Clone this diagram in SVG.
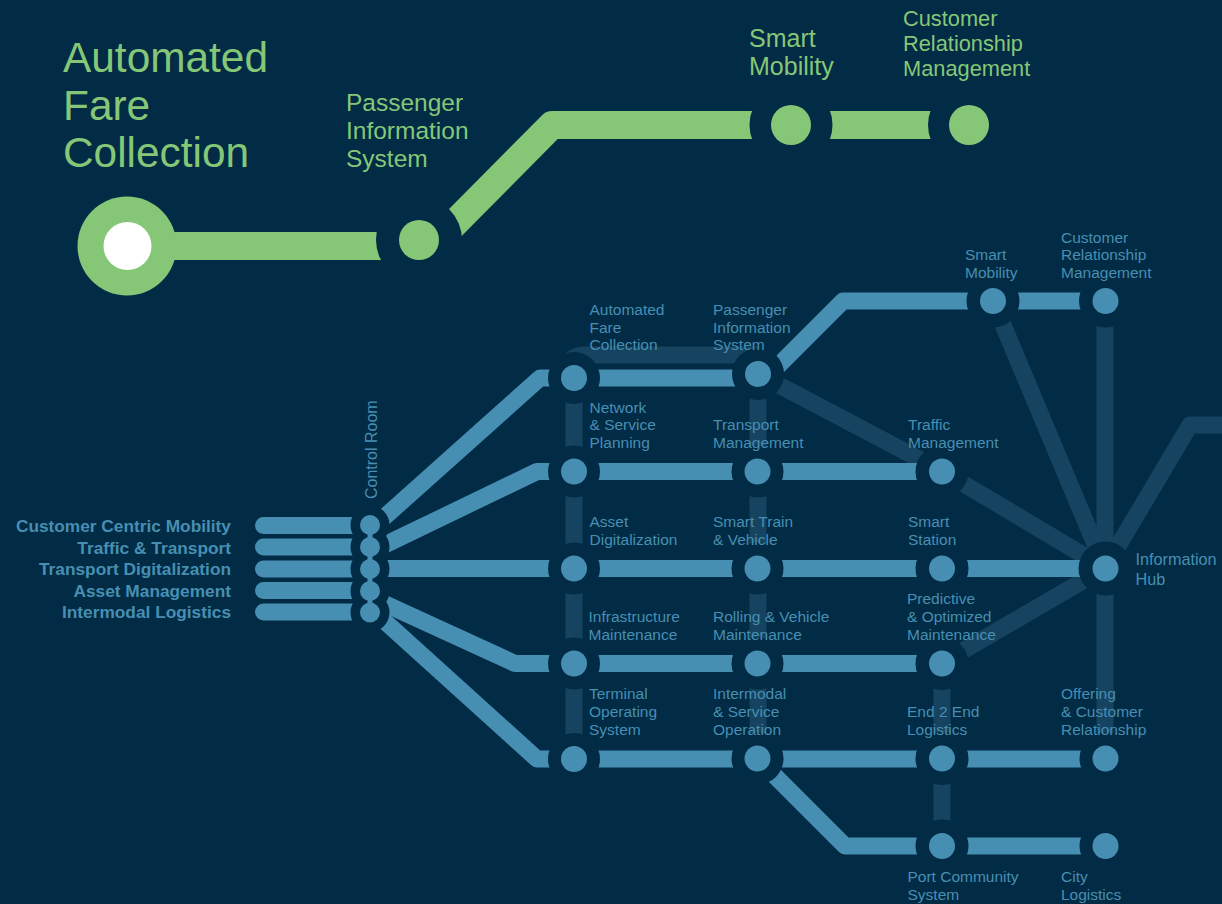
<svg xmlns="http://www.w3.org/2000/svg" width="1222" height="904" viewBox="0 0 1222 904">
<style>
text{font-family:"Liberation Sans",Arial,sans-serif}
.g{fill:none;stroke:#86C777;stroke-width:28;stroke-linejoin:round}
.b{fill:none;stroke:#478FB2;stroke-width:17;stroke-linejoin:round}
.d{fill:none;stroke:#164460;stroke-width:17;stroke-linejoin:round}
.h{fill:#022B45}
.db{fill:#478FB2}
.dg{fill:#86C777}
.t{fill:#478FB2;font-size:15.5px}
.l{fill:#478FB2;font-size:17.300px;font-weight:bold;text-anchor:end}
.tg{fill:#86C777}
</style>
<rect width="1222" height="904" fill="#022B45"/>
<g id="connectors">
<path class="g" d="M127 246H420"/>
<path class="g" d="M430 248L552 125H969"/>
<path class="d" d="M574 378V759"/>
<path class="d" d="M566 368Q570 355 586 355H758"/>
<path class="d" d="M758 374V759"/>
<path class="d" d="M758 374L942 471"/>
<path class="d" d="M942 471L1105 568"/>
<path class="d" d="M942 663L1105 568"/>
<path class="d" d="M942 663V846"/>
<path class="d" d="M993 301L1105 568"/>
<path class="d" d="M1105 301V759"/>
<path class="d" d="M1105 568L1190 425H1222"/>
<path class="b" d="M574 378H758"/>
<path class="b" d="M574 471.5H942"/>
<path class="b" d="M370 568.5H1105"/>
<path class="b" d="M574 663.5H942"/>
<path class="b" d="M574 759H1105"/>
<path class="b" d="M758 759L845 846H1105"/>
<path class="b" d="M765 379L843 301H1105"/>
<path class="b" d="M370 530L540 378H574"/>
<path class="b" d="M370 552L537 471.5H574"/>
<path class="b" d="M370 597L515 663.5H574"/>
<path class="b" d="M370 608L537 759H574"/>
<path class="b" stroke-linecap="round" d="M263.500 525.500H370M263.500 547H370M263.500 569H370M263.500 590.500H370M263.500 612H370"/>
</g>
<g id="halos" class="h">
<circle cx="419" cy="240" r="43"/><circle cx="791" cy="125" r="41.500"/><circle cx="969" cy="125" r="41"/>
<circle cx="370" cy="525" r="19.500"/><circle cx="370" cy="547" r="19.500"/><circle cx="370" cy="569" r="19.500"/><circle cx="370" cy="591" r="19.500"/><circle cx="370" cy="612.500" r="19.500"/>
<circle cx="574" cy="378" r="26"/><circle cx="574" cy="471.500" r="26"/><circle cx="574" cy="568.500" r="26"/><circle cx="574" cy="663.500" r="26"/><circle cx="574" cy="759" r="26"/>
<circle cx="758" cy="374" r="26"/><circle cx="757.500" cy="471.500" r="26"/><circle cx="757.500" cy="568.500" r="26"/><circle cx="757.500" cy="663.500" r="26"/><circle cx="757.500" cy="758.500" r="26"/>
<circle cx="942" cy="471.500" r="26.500"/><circle cx="942" cy="568.500" r="26.500"/><circle cx="942" cy="663.500" r="26.500"/><circle cx="942" cy="758.500" r="26.500"/><circle cx="942" cy="846" r="26.500"/>
<circle cx="993" cy="301" r="26.500"/><circle cx="1105.500" cy="301" r="26.500"/><circle cx="1105.500" cy="568.500" r="27"/><circle cx="1105.500" cy="758.500" r="26"/><circle cx="1105.500" cy="846" r="26"/>
</g>
<rect x="367.500" y="525" width="5" height="88" fill="#478FB2"/>
<g id="n-afc-main"><circle cx="127" cy="246" r="49.500" class="dg"/><circle cx="127.500" cy="246" r="24" fill="#fff"/>
<text class="tg" font-size="42.400"><tspan x="63" y="72">Automated</tspan><tspan x="63" y="119.500">Fare</tspan><tspan x="63" y="167">Collection</tspan></text></g>
<g id="n-pis-main"><circle cx="419" cy="240" r="20" class="dg"/>
<text class="tg" font-size="24.500"><tspan x="346" y="111">Passenger</tspan><tspan x="346" y="139">Information</tspan><tspan x="346" y="167">System</tspan></text></g>
<g id="n-sm-main"><circle cx="791" cy="125" r="20" class="dg"/>
<text class="tg" font-size="25"><tspan x="749" y="47">Smart</tspan><tspan x="749" y="75">Mobility</tspan></text></g>
<g id="n-crm-main"><circle cx="969" cy="125" r="20" class="dg"/>
<text class="tg" font-size="21.800"><tspan x="903" y="26">Customer</tspan><tspan x="903" y="51">Relationship</tspan><tspan x="903" y="75.500">Management</tspan></text></g>
<g id="n-control-room">
<circle cx="370" cy="525" r="10" class="db"/><circle cx="370" cy="547" r="10" class="db"/><circle cx="370" cy="569" r="10" class="db"/><circle cx="370" cy="591" r="10" class="db"/><circle cx="370" cy="612.500" r="10" class="db"/>
<text class="t" style="font-size:16px" transform="translate(377 499) rotate(-90)">Control Room</text>
<text class="l" x="231" y="532">Customer Centric Mobility</text>
<text class="l" x="231" y="554">Traffic &amp; Transport</text>
<text class="l" x="231" y="575">Transport Digitalization</text>
<text class="l" x="231" y="597">Asset Management</text>
<text class="l" x="231" y="618">Intermodal Logistics</text>
</g>
<g id="n-afc"><circle cx="574" cy="378" r="13" class="db"/><text class="t"><tspan x="589.500" y="315">Automated</tspan><tspan x="589.500" y="332.500">Fare</tspan><tspan x="589.500" y="350">Collection</tspan></text></g>
<g id="n-network"><circle cx="574" cy="471.500" r="13" class="db"/><text class="t"><tspan x="589.500" y="412.500">Network</tspan><tspan x="589.500" y="430">&amp; Service</tspan><tspan x="589.500" y="447.500">Planning</tspan></text></g>
<g id="n-asset"><circle cx="574" cy="568.500" r="13" class="db"/><text class="t"><tspan x="589.500" y="527">Asset</tspan><tspan x="589.500" y="544.500">Digitalization</tspan></text></g>
<g id="n-infra"><circle cx="574" cy="663.500" r="13" class="db"/><text class="t"><tspan x="588.500" y="622">Infrastructure</tspan><tspan x="588.500" y="639.500">Maintenance</tspan></text></g>
<g id="n-terminal"><circle cx="574" cy="759" r="13" class="db"/><text class="t"><tspan x="589" y="699">Terminal</tspan><tspan x="589" y="717">Operating</tspan><tspan x="589" y="734.500">System</tspan></text></g>
<g id="n-pis"><circle cx="758" cy="374" r="13" class="db"/><text class="t"><tspan x="713" y="315">Passenger</tspan><tspan x="713" y="332.500">Information</tspan><tspan x="713" y="350">System</tspan></text></g>
<g id="n-transport"><circle cx="757.500" cy="471.500" r="13" class="db"/><text class="t"><tspan x="713" y="430">Transport</tspan><tspan x="713" y="447.500">Management</tspan></text></g>
<g id="n-train"><circle cx="757.500" cy="568.500" r="13" class="db"/><text class="t"><tspan x="713" y="527">Smart Train</tspan><tspan x="713" y="544.500">&amp; Vehicle</tspan></text></g>
<g id="n-rolling"><circle cx="757.500" cy="663.500" r="13" class="db"/><text class="t"><tspan x="713" y="622">Rolling &amp; Vehicle</tspan><tspan x="713" y="639.500">Maintenance</tspan></text></g>
<g id="n-intermodal"><circle cx="757.500" cy="758.500" r="13" class="db"/><text class="t"><tspan x="713" y="699">Intermodal</tspan><tspan x="713" y="717">&amp; Service</tspan><tspan x="713" y="734.500">Operation</tspan></text></g>
<g id="n-traffic"><circle cx="942" cy="471.500" r="13" class="db"/><text class="t"><tspan x="908" y="430">Traffic</tspan><tspan x="908" y="447.500">Management</tspan></text></g>
<g id="n-station"><circle cx="942" cy="568.500" r="13" class="db"/><text class="t"><tspan x="908" y="527">Smart</tspan><tspan x="908" y="544.500">Station</tspan></text></g>
<g id="n-predictive"><circle cx="942" cy="663.500" r="13" class="db"/><text class="t"><tspan x="907" y="604">Predictive</tspan><tspan x="907" y="622">&amp; Optimized</tspan><tspan x="907" y="639.500">Maintenance</tspan></text></g>
<g id="n-e2e"><circle cx="942" cy="758.500" r="13" class="db"/><text class="t"><tspan x="907" y="717">End 2 End</tspan><tspan x="907" y="734.500">Logistics</tspan></text></g>
<g id="n-port"><circle cx="942" cy="846" r="13" class="db"/><text class="t"><tspan x="907.500" y="882">Port Community</tspan><tspan x="907.500" y="899.500">System</tspan></text></g>
<g id="n-sm"><circle cx="993" cy="301" r="13" class="db"/><text class="t"><tspan x="965" y="260">Smart</tspan><tspan x="965" y="277.500">Mobility</tspan></text></g>
<g id="n-crm"><circle cx="1105.500" cy="301" r="13" class="db"/><text class="t"><tspan x="1061" y="242.500">Customer</tspan><tspan x="1061" y="260">Relationship</tspan><tspan x="1061" y="277.500">Management</tspan></text></g>
<g id="n-hub"><circle cx="1105.500" cy="568.500" r="13" class="db"/><text class="t" style="font-size:16.200px"><tspan x="1135.500" y="565">Information</tspan><tspan x="1135.500" y="585">Hub</tspan></text></g>
<g id="n-offering"><circle cx="1105.500" cy="758.500" r="13" class="db"/><text class="t"><tspan x="1061" y="699">Offering</tspan><tspan x="1061" y="717">&amp; Customer</tspan><tspan x="1061" y="734.500">Relationship</tspan></text></g>
<g id="n-city"><circle cx="1105.500" cy="846" r="13" class="db"/><text class="t"><tspan x="1061" y="882">City</tspan><tspan x="1061" y="899.500">Logistics</tspan></text></g>
</svg>
